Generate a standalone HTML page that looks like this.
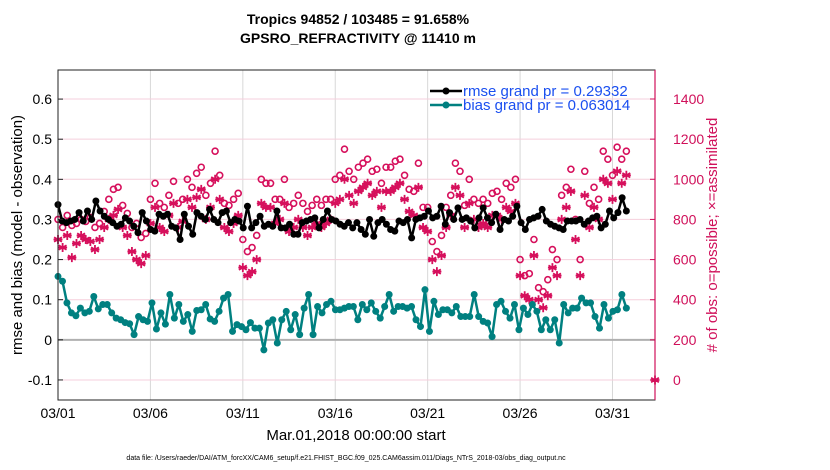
<!DOCTYPE html>
<html><head><meta charset="utf-8"><style>
body{margin:0;background:#fff;}
svg{display:block;font-family:"Liberation Sans",sans-serif;}
</style></head><body>
<svg id="chart" width="830" height="470">
<text x="358" y="24" text-anchor="middle" font-size="14" font-weight="bold">Tropics 94852 / 103485 = 91.658%</text>
<text x="358" y="43" text-anchor="middle" font-size="14" font-weight="bold">GPSRO_REFRACTIVITY @ 11410 m</text>
<g id="grid"></g>
<g id="obs"></g>
<g id="lines"></g>
<rect x="58" y="70" width="597" height="330" fill="none" stroke="#222" stroke-width="1"/>
<line x1="655" y1="70" x2="655" y2="400" stroke="#d0105a" stroke-width="1.2"/>
<g id="axes"></g>
<g>
<line x1="430" y1="91" x2="462" y2="91" stroke="#000" stroke-width="2.5"/>
<circle cx="446" cy="91" r="3.5" fill="#000"/>
<text x="463" y="96" font-size="15" fill="#1a4ff0">rmse grand pr = 0.29332</text>
<line x1="430" y1="105" x2="462" y2="105" stroke="#008080" stroke-width="2.5"/>
<circle cx="446" cy="105" r="3.5" fill="#008080"/>
<text x="463" y="110" font-size="15" fill="#1a4ff0">bias grand pr = 0.063014</text>
</g>
<text transform="translate(22,235) rotate(-90)" text-anchor="middle" font-size="15">rmse and bias (model - observation)</text>
<text transform="translate(717,235) rotate(-90)" text-anchor="middle" font-size="15" fill="#d0105a"># of obs: o=possible; ×=assimilated</text>
<text x="356" y="440" text-anchor="middle" font-size="15">Mar.01,2018 00:00:00 start</text>
<text x="346" y="460" text-anchor="middle" font-size="7">data file: /Users/raeder/DAI/ATM_forcXX/CAM6_setup/f.e21.FHIST_BGC.f09_025.CAM6assim.011/Diags_NTrS_2018-03/obs_diag_output.nc</text>
</svg>
<script>
const xTicks=[0,5,10,15,20,25,30];
const xTickLabels=["03/01","03/06","03/11","03/16","03/21","03/26","03/31"];
const yTicks=[-0.1,0,0.1,0.2,0.3,0.4,0.5,0.6];
const yTickLabels=["-0.1","0","0.1","0.2","0.3","0.4","0.5","0.6"];
const y2Ticks=[0,200,400,600,800,1000,1200,1400];
const y2TickLabels=["0","200","400","600","800","1000","1200","1400"];
const rmse=[0.337,0.296,0.292,0.296,0.3,0.317,0.296,0.321,0.3,0.346,0.321,0.308,0.3,0.292,0.283,0.288,0.304,0.296,0.283,0.267,0.317,0.296,0.275,0.271,0.313,0.308,0.313,0.283,0.279,0.25,0.313,0.283,0.263,0.317,0.308,0.3,0.325,0.3,0.292,0.317,0.321,0.292,0.3,0.296,
0.279,0.333,0.279,0.292,0.308,0.283,0.288,0.283,0.321,0.279,0.279,0.288,0.263,0.263,0.292,0.296,0.3,0.304,0.279,0.3,0.321,0.3,0.296,0.288,0.283,0.292,0.279,0.292,0.275,0.263,0.3,0.258,0.292,0.3,0.288,0.275,0.271,0.296,0.292,0.3,0.254,0.3,0.304,0.308,0.321,
0.304,0.308,0.333,0.288,0.317,0.3,0.329,0.3,0.304,0.296,0.279,0.304,0.329,0.304,0.292,0.313,0.275,0.3,0.296,0.308,0.333,0.292,0.275,0.3,0.304,0.308,0.325,0.296,0.288,0.283,0.279,0.275,0.296,0.296,0.296,0.3,0.288,0.296,0.304,0.308,0.279,0.288,0.321,0.304,0.317,0.354,0.321];
const bias=[0.158,0.146,0.092,0.067,0.06,0.079,0.067,0.071,0.108,0.077,0.088,0.088,0.067,0.054,0.05,0.043,0.04,0.013,0.058,0.05,0.046,0.092,0.027,0.067,0.039,0.113,0.054,0.088,0.046,0.063,0.021,0.073,0.075,0.088,0.052,0.046,0.071,0.104,0.113,0.021,0.038,0.033,0.025,0.043,
0.029,0.029,-0.025,0.042,0.05,-0.008,0.05,0.071,0.025,0.063,0.013,0.079,0.113,0.013,0.083,0.067,0.088,0.096,0.075,0.075,0.079,0.083,0.083,0.05,0.088,0.075,0.092,0.071,0.054,0.083,0.113,0.071,0.083,0.083,0.079,0.083,0.05,0.033,0.125,0.021,0.096,0.063,0.075,
0.075,0.067,0.083,0.058,0.058,0.058,0.113,0.058,0.046,0.042,0.008,0.088,0.096,0.071,0.054,0.088,0.025,0.079,0.063,0.088,0.071,0.025,0.05,0.025,0.05,-0.008,0.088,0.067,0.079,0.079,0.104,0.092,0.092,0.058,0.029,0.088,0.054,0.071,0.075,0.113,0.079];
const possible=[800,760,820,770,780,800,790,810,760,780,840,900,950,960,870,830,760,780,710,730,900,980,880,860,920,990,880,900,1000,960,1030,1060,920,980,1140,1020,880,870,900,930,700,640,660,720,1000,980,980,900,900,1000,860,880,920,880,840,870,900,870,900,900,1000,1020,1150,1040,1000,1060,1080,1100,1040,1050,980,1060,1060,1090,1100,1020,950,940,1080,860,860,690,640,720,860,920,1080,1040,870,1000,900,880,900,880,930,940,900,980,960,1000,600,520,530,700,460,440,500,650,600,920,960,1050,800,600,1040,880,960,900,1140,1100,1020,1160,1100,1140];
const assimilated=[700,660,720,610,680,720,700,690,650,700,760,800,820,850,760,720,640,600,580,620,780,860,760,740,820,880,760,790,900,860,910,950,800,860,1000,900,760,740,780,820,560,520,540,600,880,860,860,780,800,880,740,760,800,760,720,760,780,760,780,800,880,900,1000,920,880,940,960,980,920,940,860,940,940,960,980,900,840,820,960,760,740,600,540,620,760,820,960,920,760,880,800,760,780,760,820,820,800,860,840,880,520,420,400,620,400,360,420,560,520,800,860,940,700,520,920,760,860,800,1000,980,900,1040,980,1020];
const x0=58,x1=655,dMin=0,dMax=32.3;
const yTop=70,yBot=400,vMin=-0.15,vMax=0.6725;
function X(d){return x0+(d-dMin)/(dMax-dMin)*(x1-x0);}
function Y(v){return yBot-(v-vMin)/(vMax-vMin)*(yBot-yTop);}
function Y2(c){return 380-c*(281/1400);}
const NS="http://www.w3.org/2000/svg";
function mk(tag,attrs,parent,txt){const e=document.createElementNS(NS,tag);for(const k in attrs)e.setAttribute(k,attrs[k]);if(txt!==undefined)e.textContent=txt;parent.appendChild(e);return e;}
const grid=document.getElementById('grid'),axes=document.getElementById('axes'),obs=document.getElementById('obs'),lines=document.getElementById('lines');
xTicks.forEach((d,i)=>{
  const g=mk('line',{x1:X(d),x2:X(d),y1:yTop,y2:yBot,stroke:'#d8d8d8','stroke-width':1},grid);
  
  
  const t=mk('text',{x:X(d),y:418,'text-anchor':'middle','font-size':14},axes,xTickLabels[i]);
  
  
});
y2Ticks.forEach((c,i)=>{
  const g=mk('line',{x1:x0,x2:x1,y1:Y2(c),y2:Y2(c),stroke:'#f5cfdc','stroke-width':1},grid);
  
  
  const tk=mk('line',{x1:x1-5,x2:x1,y1:Y2(c),y2:Y2(c),stroke:'#d0105a'},axes);
  
  
  const t=mk('text',{x:673,y:Y2(c)+5,'font-size':14,fill:'#d0105a'},axes,y2TickLabels[i]);
  
  
});
yTicks.forEach((v,i)=>{
  const tk=mk('line',{x1:x0,x2:x0+5,y1:Y(v),y2:Y(v),stroke:'#222'},axes);
  
  
  const t=mk('text',{x:52,y:Y(v)+5,'text-anchor':'end','font-size':14},axes,yTickLabels[i]);
  
  
});
const zl=mk('line',{x1:x0,x2:x1,y1:Y(0),y2:Y(0),stroke:'#b0b0b0','stroke-width':2},grid);


const span=30.75;
function dayOf(i,n){return i*span/(n-1);}
possible.forEach((c,i)=>{
  const e=mk('circle',{cx:X(dayOf(i,possible.length)),cy:Y2(c),r:3,fill:'none',stroke:'#d6105c','stroke-width':1.6},obs);
  
  
});
function star(x,y,name){
  const r=4.5,a=r*0.87,b=r*0.5;
  const e=mk('path',{d:`M${x} ${y-r}V${y+r}M${x-a} ${y-b}L${x+a} ${y+b}M${x-a} ${y+b}L${x+a} ${y-b}M${x-r} ${y}H${x+r}`,stroke:'#d6105c','stroke-width':1.8},obs);
  
  
}
assimilated.forEach((c,i)=>star(X(dayOf(i,assimilated.length)),Y2(c),'assimilated-obs-marker'));
star(X(dMax),Y2(0),'assimilated-total-marker');
function series(arr,color,name){
  const pts=arr.map((v,i)=>X(dayOf(i,arr.length)).toFixed(1)+','+Y(v).toFixed(1)).join(' ');
  const l=mk('polyline',{points:pts,fill:'none',stroke:color,'stroke-width':2.5,'stroke-linejoin':'round'},lines);
  
  
  arr.forEach((v,i)=>{
    const c=mk('circle',{cx:X(dayOf(i,arr.length)),cy:Y(v),r:3.5,fill:color},lines);
    
    
  });
}
series(bias,'#008080','bias');
series(rmse,'#000000','rmse');
</script>
</body></html>
